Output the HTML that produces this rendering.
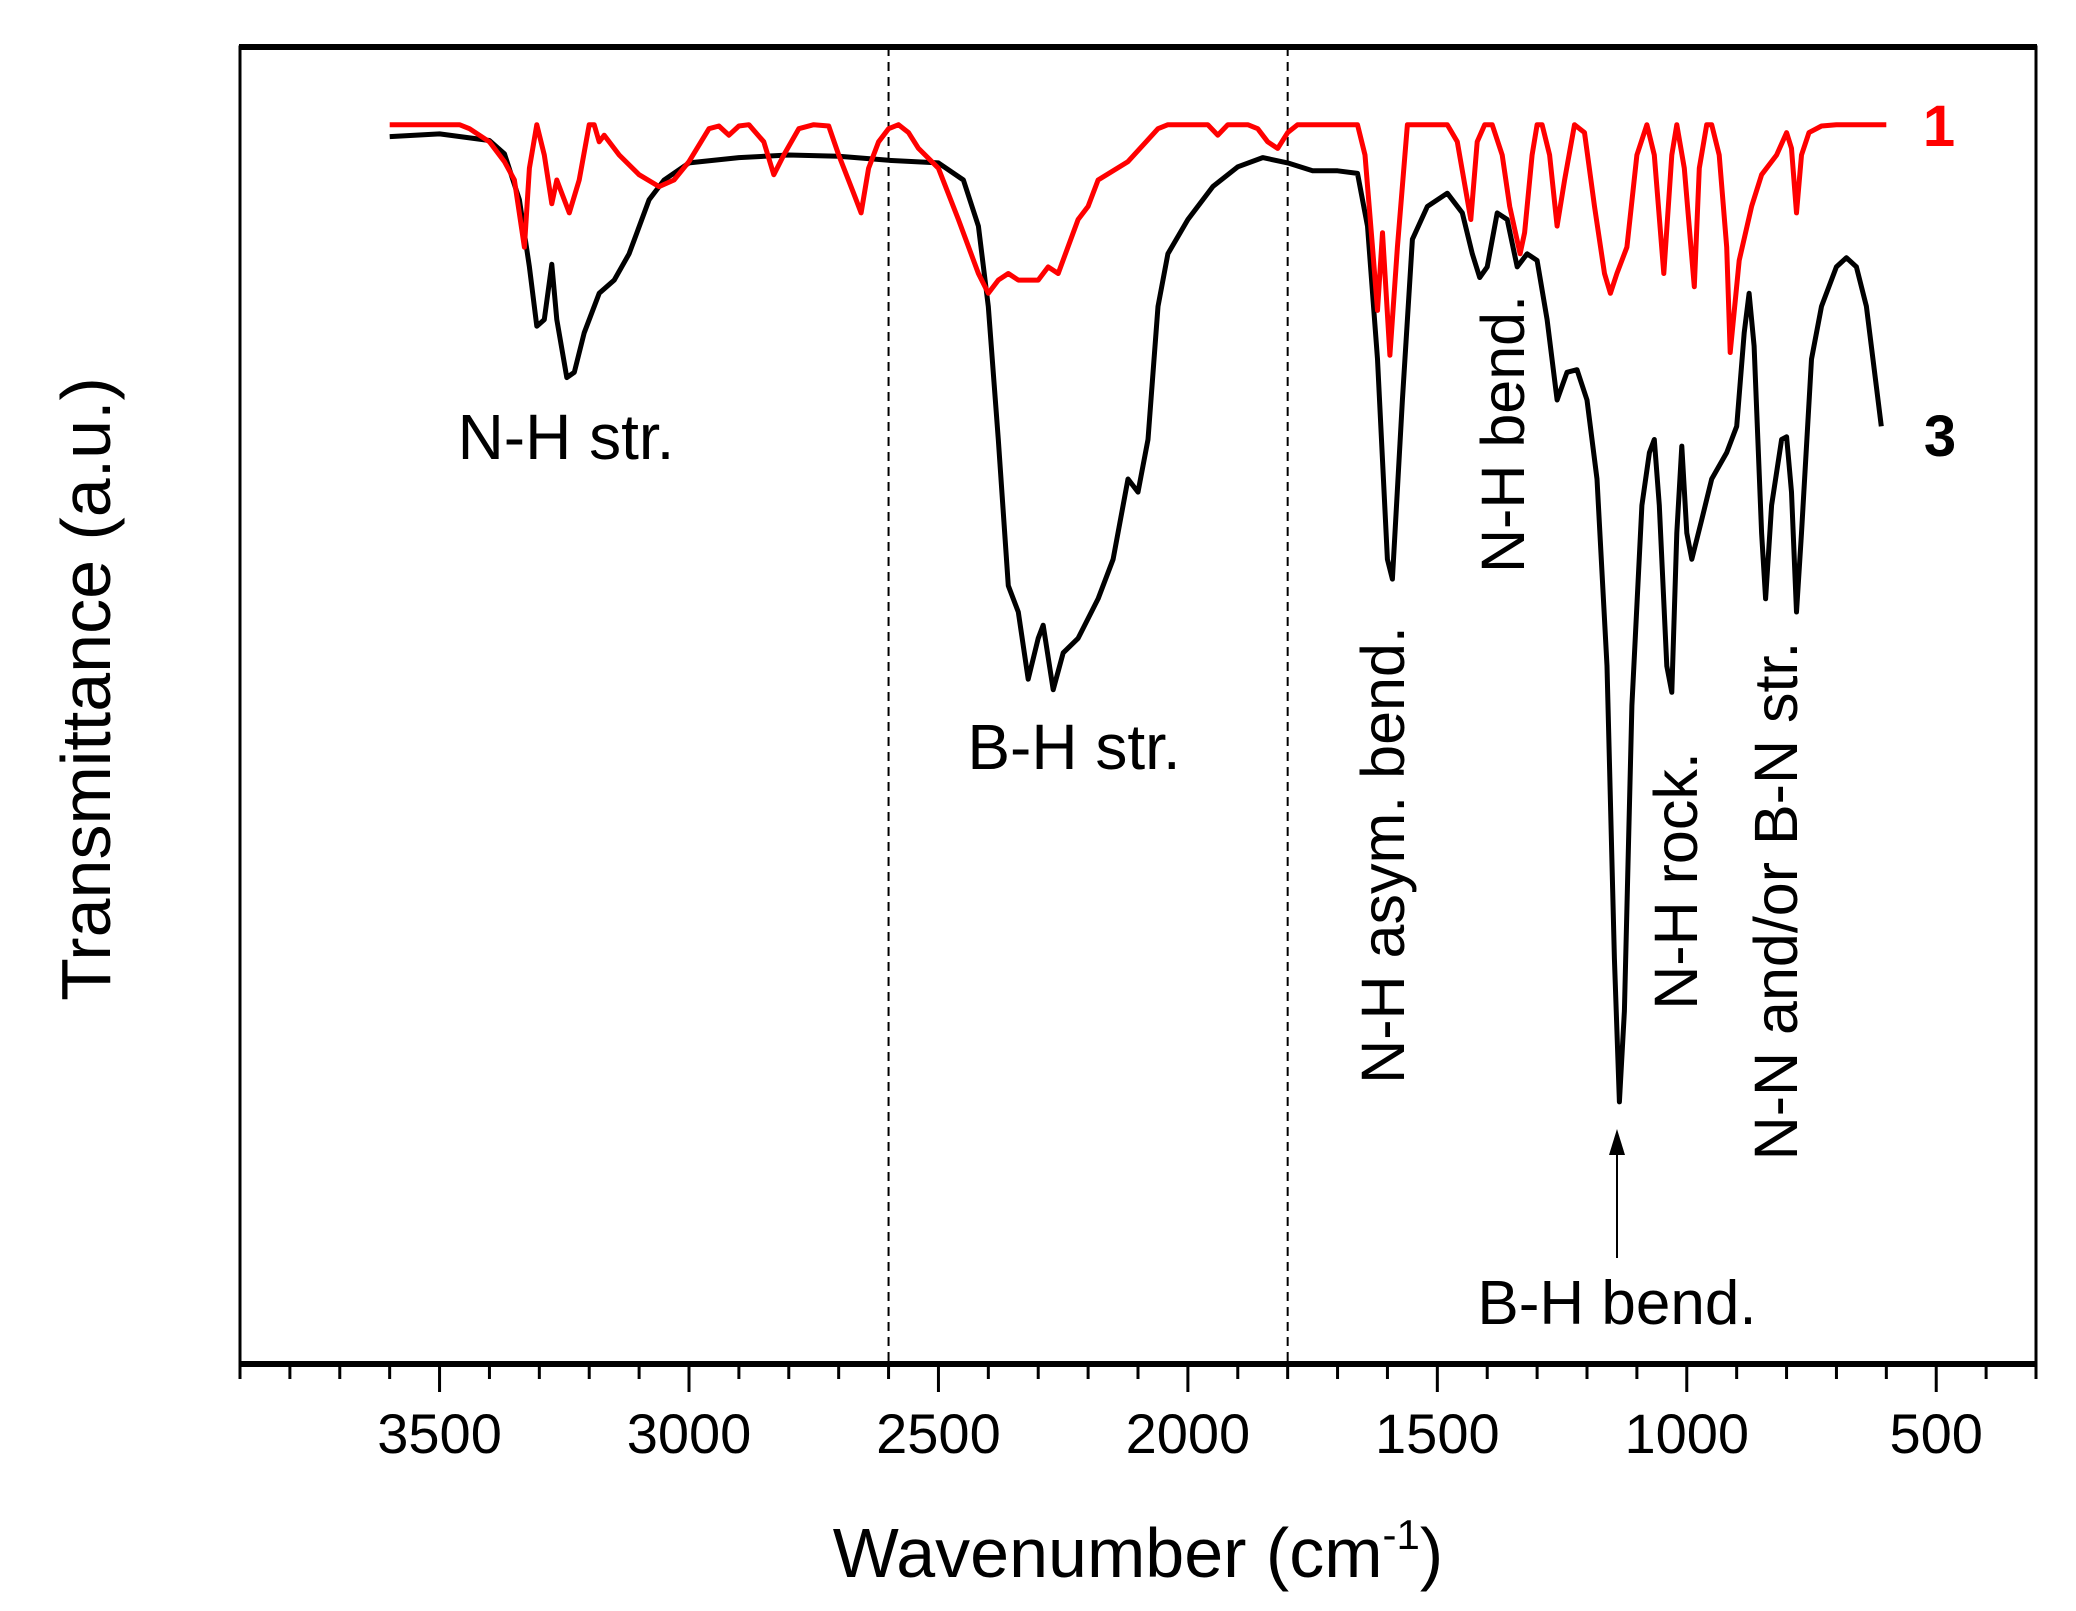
<!DOCTYPE html>
<html><head><meta charset="utf-8">
<style>
html,body{margin:0;padding:0;background:#fff;}
svg{display:block;}
text{font-family:"Liberation Sans",Arial,sans-serif;}
</style></head>
<body>
<svg id="chart" width="2076" height="1611" viewBox="0 0 2076 1611" xmlns="http://www.w3.org/2000/svg">
<rect width="2076" height="1611" fill="#fff"/>
<g id="marks"></g>
<g id="axes"></g>
<text x="0" y="0" transform="translate(110,689) rotate(-90)" font-size="70" text-anchor="middle">Transmittance (a.u.)</text>
<text x="1138" y="1577" font-size="70" text-anchor="middle">Wavenumber (cm<tspan dy="-28" font-size="42">-1</tspan><tspan dy="28">)</tspan></text>
<text x="566" y="459" font-size="64" text-anchor="middle">N-H str.</text>
<text x="1074" y="769" font-size="64" text-anchor="middle">B-H str.</text>
<text transform="translate(1404,855) rotate(-90)" font-size="61" text-anchor="middle">N-H asym. bend.</text>
<text transform="translate(1524,434) rotate(-90)" font-size="61" text-anchor="middle">N-H bend.</text>
<text transform="translate(1697,881) rotate(-90)" font-size="61" text-anchor="middle">N-H rock.</text>
<text transform="translate(1797,901) rotate(-90)" font-size="61" text-anchor="middle">N-N and/or B-N str.</text>
<text x="1617" y="1324" font-size="62" text-anchor="middle">B-H bend.</text>
<line x1="1617" y1="1258" x2="1617" y2="1150" stroke="#000" stroke-width="2"/>
<polygon points="1617,1129 1609,1155 1625,1155" fill="#000"/>
<text x="1939" y="146" font-size="58" font-weight="bold" fill="#ff0000" text-anchor="middle">1</text>
<text x="1940" y="456" font-size="58" font-weight="bold" fill="#000" text-anchor="middle">3</text>
</svg>
<script>
const blackWn = [3600,3500,3400,3370,3340,3320,3305,3290,3275,3265,3245,3230,3210,3180,3150,3120,3080,3050,3000,2900,2800,2700,2600,2500,2450,2420,2400,2380,2360,2340,2320,2300,2290,2270,2250,2220,2180,2150,2120,2100,2080,2060,2040,2000,1950,1900,1850,1800,1750,1700,1660,1640,1620,1600,1590,1570,1550,1520,1480,1450,1430,1415,1400,1380,1360,1340,1320,1300,1280,1260,1240,1220,1200,1180,1160,1145,1135,1125,1110,1090,1075,1065,1055,1040,1030,1020,1010,1000,990,970,950,920,900,885,875,865,850,842,830,810,800,790,780,770,750,730,700,680,660,640,620,610];
const blackT = [93.2,93.4,92.9,91.9,88.4,83.3,78.8,79.3,83.5,79.3,74.9,75.3,78.3,81.3,82.3,84.3,88.4,89.9,91.2,91.6,91.8,91.7,91.4,91.2,89.9,86.4,80.3,70.2,59.1,57.1,52.0,55.1,56.1,51.2,54.0,55.1,58.1,61.1,67.2,66.2,70.2,80.3,84.3,86.9,89.4,90.9,91.6,91.2,90.6,90.6,90.4,86.4,76.3,61.1,59.6,73.2,85.4,87.9,88.9,87.4,84.3,82.5,83.3,87.4,86.9,83.3,84.3,83.8,79.3,73.2,75.3,75.5,73.2,67.2,53.0,30.8,19.9,26.8,50.0,65.2,69.2,70.2,65.2,53.0,51.0,63.1,69.7,63.1,61.1,64.1,67.2,69.2,71.2,78.3,81.3,77.3,63.1,58.1,65.2,70.2,70.4,66.2,57.1,63.1,76.3,80.3,83.3,84.0,83.3,80.3,74.2,71.2];
const redWn = [3600,3460,3440,3400,3370,3350,3330,3320,3305,3290,3275,3265,3255,3240,3220,3200,3190,3180,3170,3140,3100,3060,3030,3000,2960,2940,2920,2900,2880,2850,2830,2810,2780,2750,2720,2700,2670,2655,2640,2620,2600,2580,2560,2540,2500,2460,2420,2400,2380,2360,2340,2300,2280,2260,2220,2200,2180,2120,2060,2040,1960,1940,1920,1880,1860,1840,1820,1800,1780,1660,1645,1630,1620,1610,1595,1580,1560,1480,1460,1433,1420,1405,1390,1370,1355,1334,1325,1310,1300,1290,1275,1260,1245,1225,1205,1185,1165,1153,1140,1120,1100,1080,1065,1046,1030,1020,1005,985,975,960,950,935,920,913,895,870,850,820,800,790,780,770,755,730,700,600];
const redT = [94.1,94.1,93.8,92.8,91.3,89.9,84.8,90.8,94.1,91.8,88.1,89.9,88.9,87.4,89.9,94.1,94.1,92.8,93.3,91.8,90.3,89.4,89.9,91.3,93.8,94.0,93.3,94.0,94.1,92.8,90.3,91.8,93.8,94.1,94.0,91.8,88.9,87.4,90.8,92.8,93.8,94.1,93.5,92.3,90.8,86.9,82.8,81.3,82.3,82.8,82.3,82.3,83.3,82.8,86.9,87.9,89.9,91.3,93.8,94.1,94.1,93.3,94.1,94.1,93.8,92.8,92.3,93.5,94.1,94.1,91.8,84.8,80.0,85.9,76.6,84.8,94.1,94.1,92.8,86.9,92.8,94.1,94.1,91.8,87.9,84.3,85.9,91.8,94.1,94.1,91.8,86.4,89.9,94.1,93.5,87.9,82.8,81.3,82.8,84.8,91.8,94.1,91.8,82.8,91.8,94.1,90.8,81.8,90.8,94.1,94.1,91.8,84.8,76.8,83.8,87.9,90.3,91.8,93.5,92.3,87.4,91.8,93.5,94.0,94.1,94.1];
const majorTicks = [3500,3000,2500,2000,1500,1000,500];
const majorTickLabels = ["3500","3000","2500","2000","1500","1000","500"];
const dashedRefs = [2600,1800];

const NS = "http://www.w3.org/2000/svg";
const L = 240, R = 2036, T = 47, B = 1364;
const xMax = 3900, xMin = 300;
function xs(w){ return L + (xMax - w) / (xMax - xMin) * (R - L); }
function ys(v){ return B - v / 100 * (B - T); }
function mk(tag, attrs, parent){ const e = document.createElementNS(NS, tag); for (const k in attrs) e.setAttribute(k, attrs[k]); parent.appendChild(e); return e; }

const marks = document.getElementById('marks');
const axes = document.getElementById('axes');

dashedRefs.forEach(function(w){
  const ln = mk('line', {x1: xs(w), x2: xs(w), y1: T, y2: B, stroke: '#000', 'stroke-width': 2, 'stroke-dasharray': '9,6'}, marks);
  
  
});

function linePath(wn, tv){ return wn.map(function(w,i){ return (i ? 'L' : 'M') + xs(w).toFixed(1) + ',' + ys(tv[i]).toFixed(1); }).join(''); }
const blackPath = mk('path', {d: linePath(blackWn, blackT), fill: 'none', stroke: '#000', 'stroke-width': 5, 'stroke-linejoin': 'round'}, marks);


const redPath = mk('path', {d: linePath(redWn, redT), fill: 'none', stroke: '#ff0000', 'stroke-width': 5, 'stroke-linejoin': 'round'}, marks);



const frame = mk('rect', {x: L, y: T, width: R - L, height: B - T, fill: 'none', stroke: '#000', 'stroke-width': 3}, axes);


const topAx = mk('line', {x1: L - 1, x2: R + 1, y1: T, y2: T, stroke: '#000', 'stroke-width': 6}, axes);


const botAx = mk('line', {x1: L - 1, x2: R + 1, y1: B, y2: B, stroke: '#000', 'stroke-width': 6}, axes);



for (let w = xMax; w >= xMin; w -= 100) {
  const major = w % 500 === 0;
  const t = mk('line', {x1: xs(w), x2: xs(w), y1: B, y2: B + (major ? 28 : 15), stroke: '#000', 'stroke-width': 3}, axes);
  
  
}
majorTicks.forEach(function(w, i){
  const tx = mk('text', {x: xs(w), y: 1453, 'font-size': 56, 'text-anchor': 'middle'}, axes);
  tx.textContent = majorTickLabels[i];
  
  
});
</script>
</body></html>
